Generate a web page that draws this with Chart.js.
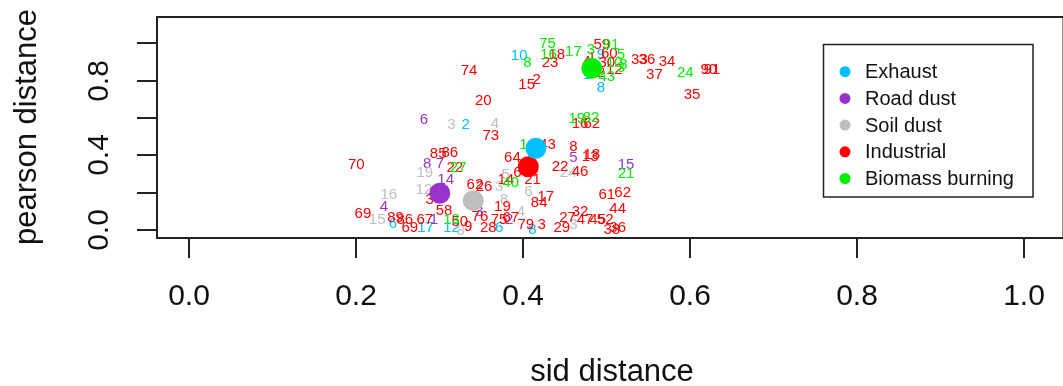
<!DOCTYPE html>
<html lang="en">
<head>
<meta charset="UTF-8" />
<title>sid vs pearson distance</title>
<script src="https://cdn.jsdelivr.net/npm/chart.js"></script>
<style>
  html, body { margin: 0; padding: 0; background: #fff; }
  canvas { display: block; }
</style>
</head>
<body>
<canvas id="myChart" width="1063" height="386"></canvas>
<script>
  // categories, colours and centroid positions
  const categories = ["Exhaust", "Road dust", "Soil dust", "Industrial", "Biomass burning"];
  const colors = ["#00BFFF", "#9932CC", "#BEBEBE", "#FF0000", "#00EE00"];
  const centroidSid = [0.415, 0.300, 0.340, 0.406, 0.482];
  const centroidPearson = [0.438, 0.197, 0.157, 0.339, 0.866];

  // sample labels per category (id, sid distance, pearson distance)
  const exhaustIds = ["10", "2", "9", "1", "8", "6", "17", "12", "6", "8"];
  const exhaustSid = [0.395, 0.331, 0.493, 0.476, 0.493, 0.371, 0.283, 0.314, 0.244, 0.411];
  const exhaustPearson = [0.932, 0.562, 0.937, 0.830, 0.763, 0.011, 0.011, 0.011, 0.032, 0.000];

  const roadIds = ["6", "8", "7", "14", "4", "1", "2", "5", "15", "3"];
  const roadSid = [0.281, 0.285, 0.300, 0.307, 0.233, 0.293, 0.383, 0.460, 0.523, 0.347];
  const roadPearson = [0.589, 0.357, 0.357, 0.268, 0.125, 0.054, 0.054, 0.384, 0.348, 0.096];

  const soilIds = ["3", "4", "19", "12", "16", "15", "8", "3", "5", "6", "8", "4", "24", "3"];
  const soilSid = [0.314, 0.366, 0.282, 0.281, 0.239, 0.225, 0.325, 0.371, 0.379, 0.406, 0.377, 0.397, 0.454, 0.460];
  const soilPearson = [0.562, 0.568, 0.304, 0.214, 0.187, 0.054, -0.005, 0.232, 0.295, 0.205, 0.161, 0.098, 0.304, 0.027];

  const industrialIds = ["74", "15", "2", "20", "73", "18", "23", "4", "1", "59", "60", "30", "12", "2",
    "33", "36", "34", "37", "90", "91", "35", "16", "62", "70", "85", "86", "22", "3", "69", "89",
    "86", "69", "67", "58", "50", "9", "62", "26", "76", "28", "14", "64", "6", "21", "43", "22",
    "19", "75", "67", "17", "84", "79", "3", "8", "18", "13", "46", "61", "62", "44", "32", "27",
    "47", "45", "52", "29", "38", "36"];
  const industrialSid = [0.335, 0.404, 0.416, 0.352, 0.361, 0.440, 0.432, 0.476, 0.482, 0.494, 0.503, 0.500, 0.509, 0.493,
    0.539, 0.548, 0.572, 0.557, 0.622, 0.626, 0.602, 0.468, 0.482, 0.200, 0.298, 0.312, 0.318, 0.288, 0.208, 0.247,
    0.258, 0.264, 0.282, 0.305, 0.324, 0.334, 0.342, 0.353, 0.348, 0.358, 0.379, 0.387, 0.393, 0.411, 0.429, 0.444,
    0.375, 0.371, 0.385, 0.427, 0.419, 0.403, 0.422, 0.460, 0.482, 0.480, 0.468, 0.500, 0.519, 0.513, 0.468, 0.453,
    0.474, 0.489, 0.498, 0.446, 0.506, 0.513];
  const industrialPearson = [0.853, 0.780, 0.803, 0.693, 0.503, 0.937, 0.893, 0.901, 0.921, 0.991, 0.943, 0.894, 0.857, 0.840,
    0.911, 0.914, 0.901, 0.830, 0.857, 0.857, 0.723, 0.568, 0.568, 0.348, 0.407, 0.411, 0.332, 0.161, 0.089, 0.064,
    0.057, 0.009, 0.057, 0.103, 0.043, 0.016, 0.241, 0.229, 0.070, 0.014, 0.268, 0.384, 0.304, 0.268, 0.455, 0.339,
    0.125, 0.054, 0.063, 0.178, 0.143, 0.027, 0.027, 0.446, 0.402, 0.391, 0.309, 0.187, 0.197, 0.111, 0.098, 0.063,
    0.054, 0.054, 0.054, 0.009, 0.000, 0.009];

  const biomassIds = ["8", "75", "16", "17", "3", "91", "5", "10", "3", "8", "43", "24", "19", "82", "1", "27", "13", "40", "21"];
  const biomassSid = [0.405, 0.429, 0.430, 0.460, 0.481, 0.505, 0.517, 0.509, 0.517, 0.520, 0.500, 0.594, 0.464, 0.481, 0.400, 0.322, 0.314, 0.385, 0.523];
  const biomassPearson = [0.893, 0.996, 0.937, 0.955, 0.964, 0.991, 0.937, 0.894, 0.868, 0.884, 0.819, 0.843, 0.593, 0.600, 0.455, 0.332, 0.057, 0.250, 0.300];

  const xTicks = [0, 0.2, 0.4, 0.6, 0.8, 1.0];
  const yTicks = [0, 0.2, 0.4, 0.6, 0.8, 1.0];
  const yTickLabels = ["0.0", "", "0.4", "", "0.8", ""];

  const labelGroups = [
    [exhaustIds, exhaustSid, exhaustPearson],
    [roadIds, roadSid, roadPearson],
    [soilIds, soilSid, soilPearson],
    [industrialIds, industrialSid, industrialPearson],
    [biomassIds, biomassSid, biomassPearson],
  ];

  const FONT = "'Liberation Sans', Arial, Helvetica, sans-serif";

  const datasets = [];
  labelGroups.forEach((g, i) => {
    datasets.push({
      label: categories[i] + " samples",
      kind: "text",
      color: colors[i],
      data: g[0].map((id, k) => ({ x: g[1][k], y: g[2][k], id: id })),
      pointRadius: 0,
      pointHoverRadius: 0,
      showLine: false,
    });
  });
  categories.forEach((c, i) => {
    datasets.push({
      label: c,
      kind: "centroid",
      data: [{ x: centroidSid[i], y: centroidPearson[i] }],
      pointRadius: 10.5,
      pointHoverRadius: 10.5,
      backgroundColor: colors[i],
      borderWidth: 0,
      showLine: false,
    });
  });

  // draws the numbered sample labels under the centroids
  const textLabels = {
    id: "textLabels",
    beforeDatasetsDraw(chart) {
      const ctx = chart.ctx;
      ctx.save();
      ctx.font = "15px " + FONT;
      ctx.textAlign = "center";
      ctx.textBaseline = "middle";
      chart.data.datasets.forEach((ds, i) => {
        if (ds.kind !== "text") return;
        const meta = chart.getDatasetMeta(i);
        ctx.fillStyle = ds.color;
        meta.data.forEach((pt, k) => {
          ctx.fillText(ds.data[k].id, pt.x, pt.y);
        });
      });
      ctx.restore();
    },
  };

  // base-graphics style box, axes and legend
  const frame = {
    id: "frame",
    afterDraw(chart) {
      const ctx = chart.ctx;
      const xs = chart.scales.x;
      const ys = chart.scales.y;
      const a = chart.chartArea;
      ctx.save();
      ctx.strokeStyle = "#222";
      ctx.lineWidth = 2;
      ctx.strokeRect(a.left + 1, a.top, a.right - a.left + 10, a.bottom - a.top);

      ctx.fillStyle = "#111";
      ctx.font = "30px " + FONT;
      ctx.textAlign = "center";
      ctx.textBaseline = "middle";
      xTicks.forEach((t) => {
        const px = Math.round(xs.getPixelForValue(t));
        ctx.beginPath();
        ctx.moveTo(px, a.bottom);
        ctx.lineTo(px, a.bottom + 20);
        ctx.stroke();
        ctx.fillText(t.toFixed(1), px, 297);
      });
      yTicks.forEach((t, i) => {
        const py = Math.round(ys.getPixelForValue(t));
        ctx.beginPath();
        ctx.moveTo(a.left + 1, py);
        ctx.lineTo(a.left - 19, py);
        ctx.stroke();
        if (yTickLabels[i]) {
          ctx.save();
          ctx.translate(100, py);
          ctx.rotate(-Math.PI / 2);
          ctx.fillText(yTickLabels[i], 0, 0);
          ctx.restore();
        }
      });

      ctx.font = "31px " + FONT;
      ctx.fillText("sid distance", 612, 372);
      ctx.save();
      ctx.translate(27, 127);
      ctx.rotate(-Math.PI / 2);
      ctx.fillText("pearson distance", 0, 0);
      ctx.restore();

      // legend
      ctx.lineWidth = 1.5;
      ctx.strokeRect(823.5, 44.5, 209.5, 152.5);
      ctx.font = "20px " + FONT;
      ctx.textAlign = "left";
      categories.forEach((c, i) => {
        const y = 71.7 + i * 26.7;
        ctx.fillStyle = colors[i];
        ctx.beginPath();
        ctx.arc(845, y, 5.5, 0, Math.PI * 2);
        ctx.fill();
        ctx.fillStyle = "#111";
        ctx.fillText(c, 865, y + 1);
      });
      ctx.restore();
    },
  };

  const ctx = document.getElementById("myChart").getContext("2d");
  new Chart(ctx, {
    type: "scatter",
    data: { datasets: datasets },
    options: {
      responsive: false,
      animation: false,
      devicePixelRatio: 1,
      layout: { padding: { left: 156, top: 17, right: 0, bottom: 148 } },
      plugins: { legend: { display: false }, tooltip: { enabled: false } },
      scales: {
        x: { type: "linear", min: -0.0398, max: 1.0336, display: false },
        y: { type: "linear", min: -0.0428, max: 1.141, display: false },
      },
    },
    plugins: [textLabels, frame],
  });
</script>
</body>
</html>
